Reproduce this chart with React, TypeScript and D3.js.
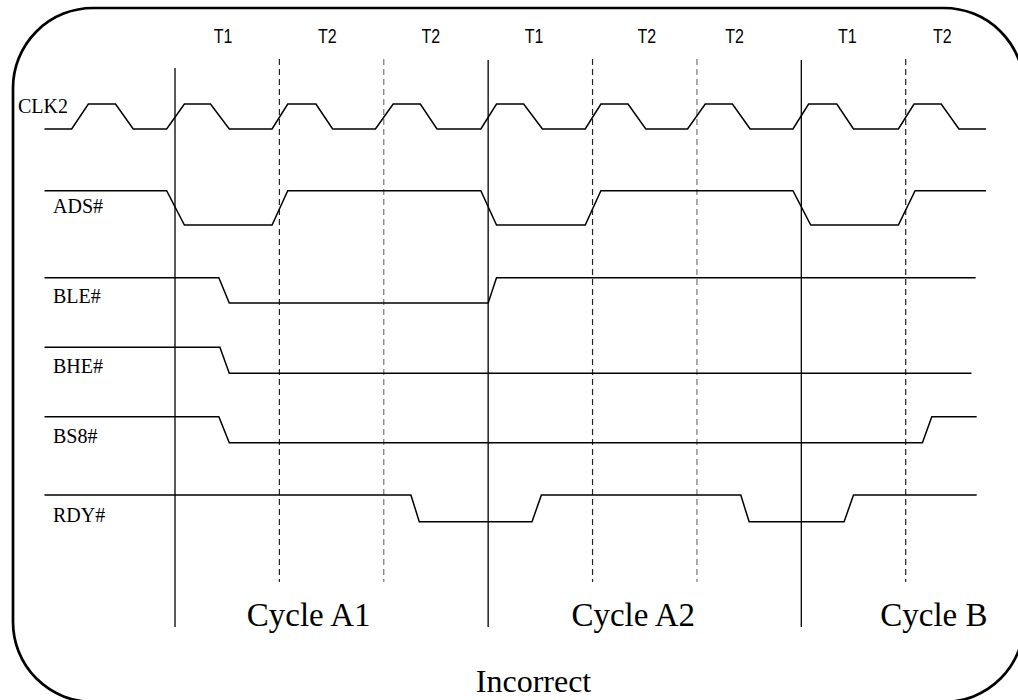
import React, { useEffect, useRef } from 'react'
import * as d3 from 'd3'

type Pt = [number, number]

// Signal rows, top to bottom
const signalNames = ['CLK2', 'ADS#', 'BLE#', 'BHE#', 'BS8#', 'RDY#']

// Waveforms as [time, level] pairs. Time is in T-states counted from the
// start of Cycle A1, level is 0 (low) or 1 (high).
const clk2: Pt[] = [
    [-1.25, 0], [-0.99, 0], [-0.83, 1], [-0.57, 1], [-0.4, 0],
    [-0.08, 0], [0.09, 1], [0.34, 1], [0.52, 0],
    [0.93, 0], [1.08, 1], [1.35, 1], [1.51, 0],
    [1.92, 0], [2.09, 1], [2.35, 1], [2.51, 0],
    [2.93, 0], [3.08, 1], [3.34, 1], [3.52, 0],
    [3.93, 0], [4.08, 1], [4.34, 1], [4.51, 0],
    [4.91, 0], [5.08, 1], [5.34, 1], [5.51, 0],
    [5.92, 0], [6.07, 1], [6.34, 1], [6.5, 0],
    [6.93, 0], [7.08, 1], [7.34, 1], [7.51, 0], [7.77, 0],
]
const ads: Pt[] = [
    [-1.25, 1], [-0.08, 1], [0.09, 0], [0.93, 0], [1.08, 1],
    [2.93, 1], [3.08, 0], [3.93, 0], [4.08, 1],
    [5.92, 1], [6.09, 0], [6.93, 0], [7.09, 1], [7.77, 1],
]
const ble: Pt[] = [[-1.25, 1], [0.42, 1], [0.52, 0], [3.0, 0], [3.08, 1], [7.67, 1]]
const bhe: Pt[] = [[-1.25, 1], [0.43, 1], [0.52, 0], [7.63, 0]]
const bs8: Pt[] = [[-1.25, 1], [0.42, 1], [0.52, 0], [7.16, 0], [7.25, 1], [7.68, 1]]
const rdy: Pt[] = [
    [-1.25, 1], [2.26, 1], [2.34, 0], [3.42, 0], [3.51, 1],
    [5.42, 1], [5.5, 0], [6.41, 0], [6.5, 1], [7.68, 1],
]
const waves = [clk2, ads, ble, bhe, bs8, rdy]

// T-state names across the top
const tStateLabels = ['T1', 'T2', 'T2', 'T1', 'T2', 'T2', 'T1', 'T2']
const tStateAt = [0.46, 1.46, 2.45, 3.44, 4.52, 5.36, 6.44, 7.35]

// Bus cycle starts (solid) and T-state boundaries (dashed)
const cycleBounds = [0, 3, 6]
const phaseBounds = [1, 2, 4, 5, 7]

const cycleLabels = ['Cycle A1', 'Cycle A2', 'Cycle B']
const cycleLabelAt = [1.28, 4.39, 7.27]

const caption = 'Incorrect'

// layout
const W = 1018
const H = 700
const rowLow = [129, 225, 303, 373.3, 442.7, 521.7]
const rowHigh = [104, 190.7, 277.7, 347.3, 416.7, 495]
const labelX = [18, 53, 53, 53, 53, 53]
const labelY = [113, 213, 303, 373, 443, 522]
const SANS = '"Liberation Sans", Arial, sans-serif'
const SERIF = '"Liberation Serif", "Times New Roman", serif'

const TimingDiagram: React.FC = () => {
    const svgRef = useRef<SVGSVGElement | null>(null)

    useEffect(() => {
        const svg = d3.select(svgRef.current).attr('width', W).attr('height', H)
        svg.selectAll('*').remove()

        const x = d3.scaleLinear().domain([0, 7]).range([175, 905.7])

        // rounded frame
        svg.append('rect')
            .attr('x', 13)
            .attr('y', 8)
            .attr('width', 1011)
            .attr('height', 694)
            .attr('rx', 80)
            .attr('ry', 80)
            .attr('fill', 'none')
            .attr('stroke', '#000')
            .attr('stroke-width', 2.7)

        // dashed T-state boundaries
        svg.append('g')
            .selectAll('line')
            .data(phaseBounds)
            .join('line')
            .attr('x1', (d) => x(d))
            .attr('x2', (d) => x(d))
            .attr('y1', 59)
            .attr('y2', 582)
            .attr('stroke', (d) => (d === 2 || d === 5 ? '#777' : '#222'))
            .attr('stroke-width', 1.2)
            .attr('stroke-dasharray', '6,4')

        // solid cycle boundaries
        svg.append('g')
            .selectAll('line')
            .data(cycleBounds)
            .join('line')
            .attr('x1', (d) => x(d))
            .attr('x2', (d) => x(d))
            .attr('y1', (_, i) => (i === 0 ? 68 : 60))
            .attr('y2', 627)
            .attr('stroke', '#000')
            .attr('stroke-width', 1.3)

        // waveforms
        waves.forEach((pts, i) => {
            const y = d3.scaleLinear().domain([0, 1]).range([rowLow[i], rowHigh[i]])
            const line = d3
                .line<Pt>()
                .x((d) => x(d[0]))
                .y((d) => y(d[1]))
            svg.append('path')
                .attr('d', line(pts))
                .attr('fill', 'none')
                .attr('stroke', '#000')
                .attr('stroke-width', 1.5)
                .attr('stroke-linejoin', 'miter')
        })

        // signal names
        svg.append('g')
            .selectAll('text')
            .data(signalNames)
            .join('text')
            .attr('x', (_, i) => labelX[i])
            .attr('y', (_, i) => labelY[i])
            .attr('font-family', SERIF)
            .attr('font-size', 20)
            .attr('fill', '#000')
            .text((d) => d)

        // T-state names (slightly tall glyphs in the original)
        svg.append('g')
            .selectAll('text')
            .data(tStateLabels)
            .join('text')
            .attr('transform', (_, i) => `translate(${x(tStateAt[i])},42.7) scale(1,1.24)`)
            .attr('text-anchor', 'middle')
            .attr('font-family', SANS)
            .attr('font-size', 16)
            .attr('fill', '#000')
            .text((d) => d)

        // cycle names
        svg.append('g')
            .selectAll('text')
            .data(cycleLabels)
            .join('text')
            .attr('x', (_, i) => x(cycleLabelAt[i]))
            .attr('y', 626)
            .attr('text-anchor', 'middle')
            .attr('font-family', SERIF)
            .attr('font-size', 33)
            .attr('fill', '#000')
            .text((d) => d)

        // caption sits right on the bottom edge; keep its box inside the page
        svg.append('text')
            .attr('x', 533.5)
            .attr('y', 692)
            .attr('text-anchor', 'middle')
            .attr('font-family', SERIF)
            .attr('font-size', 32)
            .attr('fill', '#000')
            .text(caption)
    }, [])

    return (
        <svg
            ref={svgRef}
            width={W}
            height={H}
            style={{ position: 'absolute', left: 0, top: 0, display: 'block', background: '#fff' }}
        />
    )
}

export default function App() {
    return <TimingDiagram />
}
